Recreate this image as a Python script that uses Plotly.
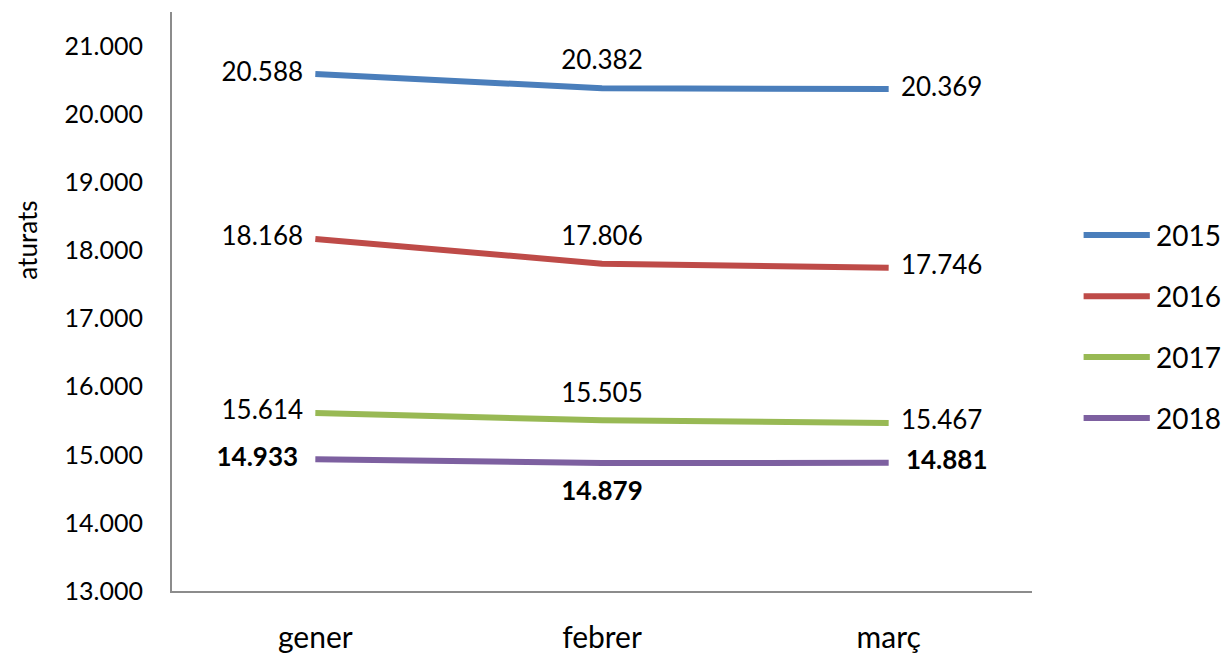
import plotly.graph_objects as go

months = ["gener", "febrer", "març"]
years = ["2015", "2016", "2017", "2018"]
v2015 = [20588, 20382, 20369]
v2016 = [18168, 17806, 17746]
v2017 = [15614, 15505, 15467]
v2018 = [14933, 14879, 14881]
colors = ["#4A7EBB", "#BE4B48", "#98B954", "#7D60A0"]
ytick_vals = [13000, 14000, 15000, 16000, 17000, 18000, 19000, 20000, 21000]

series = [v2015, v2016, v2017, v2018]
FONT = "Lato"

def fmt(v):
    return f"{v:,}".replace(",", ".")

fig = go.Figure()
for i, (yr, vals, col) in enumerate(zip(years, series, colors)):
    bold = (yr == "2018")
    if bold:
        pos = ["middle left", "bottom center", "middle right"]
        txt = [f"<b>{fmt(v)}</b>" for v in vals]
        msize = 26
    else:
        pos = ["middle left", "top center", "middle right"]
        txt = [fmt(v) for v in vals]
        msize = 18
    fig.add_trace(go.Scatter(
        x=months, y=vals, name=yr, mode="lines+text+markers",
        line=dict(color=col, width=6),
        marker=dict(size=msize, color="rgba(0,0,0,0)"),
        text=txt, textposition=pos,
        textfont=dict(family=FONT, size=26, color="#000"),
        showlegend=False, cliponaxis=False,
    ))

# manual legend
leg_y = [0.615, 0.509, 0.404, 0.299]
for yr, col, ly in zip(years, colors, leg_y):
    fig.add_shape(type="line", xref="paper", yref="paper",
                  x0=1.060, x1=1.137, y0=ly, y1=ly,
                  line=dict(color=col, width=6))
    fig.add_annotation(xref="paper", yref="paper", x=1.142, y=ly,
                       text=yr, showarrow=False, xanchor="left", yanchor="middle",
                       font=dict(family=FONT, size=28, color="#000"))

fig.add_annotation(xref="paper", yref="paper", x=-0.168, y=0.606,
                   text="aturats", showarrow=False, textangle=-90,
                   xanchor="center", yanchor="middle",
                   font=dict(family=FONT, size=26, color="#000"))

fig.update_layout(
    width=1223, height=645,
    margin=dict(l=164, r=199, t=4, b=62),
    paper_bgcolor="white", plot_bgcolor="white",
    separators=",.",
    font=dict(family=FONT, color="#000"),
)
fig.update_xaxes(
    type="category", range=[-0.5, 2.5], showgrid=False, zeroline=False,
    showline=True, linecolor="#8C8C8C", linewidth=2, ticks="",
    tickfont=dict(family=FONT, size=30, color="#000"), ticklabelstandoff=19,
    automargin=False,
)
fig.update_yaxes(
    range=[13000, 21500], tickvals=ytick_vals, tickformat=",d",
    showgrid=False, zeroline=False,
    showline=True, linecolor="#8C8C8C", linewidth=2, ticks="",
    tickfont=dict(family=FONT, size=25, color="#000"), ticklabelstandoff=22,
    automargin=False,
)

fig.write_html("out.html")
